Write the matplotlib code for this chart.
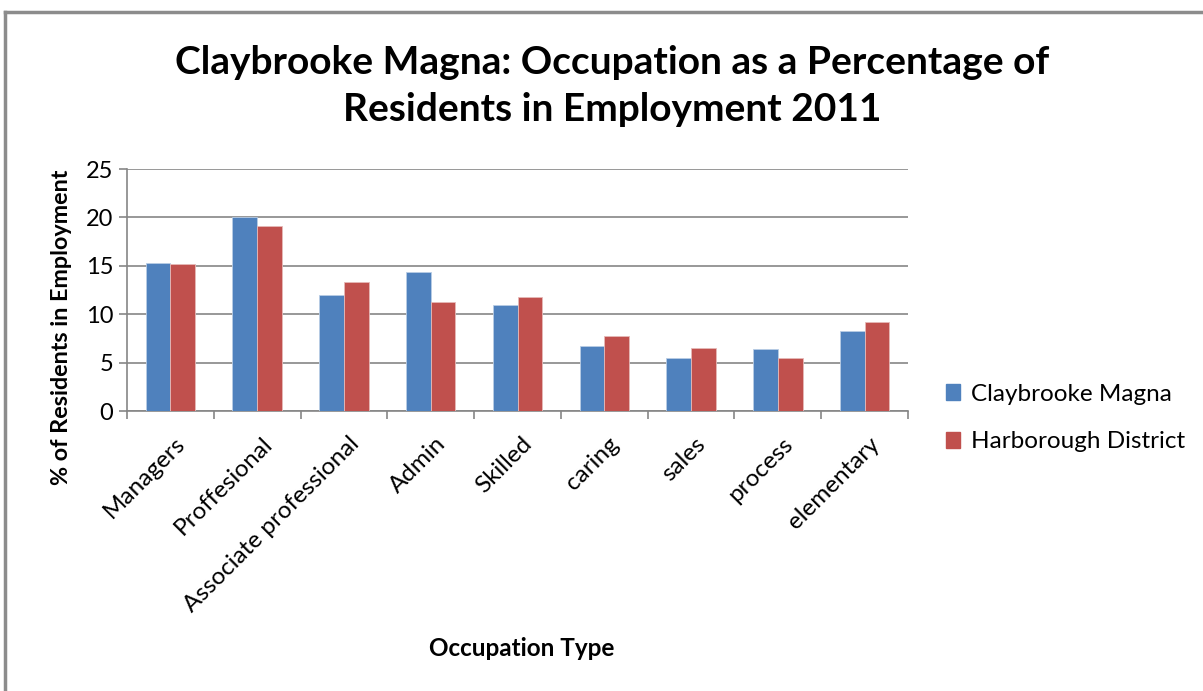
import matplotlib.pyplot as plt
import matplotlib.patches as mpatches
from matplotlib.lines import Line2D
from matplotlib.transforms import ScaledTranslation
import numpy as np

plt.rcParams['font.family'] = ['Lato', 'DejaVu Sans']

# Data
categories = ["Managers", "Proffesional", "Associate professional", "Admin", "Skilled",
              "caring", "sales", "process", "elementary"]
claybrooke = [15.3, 20.0, 12.0, 14.4, 11.0, 6.7, 5.5, 6.4, 8.3]
harborough = [15.2, 19.1, 13.3, 11.3, 11.8, 7.8, 6.5, 5.5, 9.2]
series_names = ["Claybrooke Magna", "Harborough District"]

BLUE = '#4F81BD'
RED = '#C0504D'
GRID = '#868686'

fig = plt.figure(figsize=(12.03, 6.91), dpi=100)
ax = fig.add_axes([0.1056, 0.4052, 0.6492, 0.3502])

x = np.arange(len(categories))
w = 0.285
ax.bar(x - w / 2, claybrooke, w, color=BLUE, edgecolor='#b9cde5', linewidth=0.6, zorder=3)
ax.bar(x + w / 2, harborough, w, color=RED, edgecolor='#e6b9b8', linewidth=0.6, zorder=3)

ax.set_xlim(-0.5, len(categories) - 0.5)
ax.set_ylim(0, 25)
ax.set_yticks(np.arange(0, 26, 5))
ax.yaxis.grid(True, color=GRID, linewidth=1.2, zorder=0)
ax.set_axisbelow(True)

# category boundary ticks
ax.set_xticks(np.arange(-0.5, len(categories), 1))
ax.set_xticklabels([])
ax.set_xticks(x, minor=True)
ax.set_xticklabels(categories, minor=True, rotation=45, ha='right', va='top',
                   rotation_mode='anchor', fontsize=17.5)
ax.tick_params(axis='x', which='minor', length=0, pad=16)
ax.tick_params(axis='x', which='major', length=6, color=GRID, width=1.2)
ax.tick_params(axis='y', length=6, color=GRID, width=1.2, labelsize=17, pad=4)
shift = ScaledTranslation(0.04, 0, fig.dpi_scale_trans)
for lbl in ax.get_xticklabels(minor=True):
    lbl.set_transform(lbl.get_transform() + shift)

for s in ['top', 'right']:
    ax.spines[s].set_visible(False)
for s in ['left', 'bottom']:
    ax.spines[s].set_color(GRID)
    ax.spines[s].set_linewidth(1.2)

fig.text(0.509, 0.875, "Claybrooke Magna: Occupation as a Percentage of\nResidents in Employment 2011",
         ha='center', va='center', fontsize=28, fontweight='bold', linespacing=1.42)
fig.text(0.051, 0.527, "% of Residents in Employment", rotation=90, ha='center', va='center',
         fontsize=16.8, fontweight='bold')
fig.text(0.434, 0.062, "Occupation Type", ha='center', va='center', fontsize=17.5, fontweight='bold')

handles = [mpatches.Patch(color=BLUE, label=series_names[0]),
           mpatches.Patch(color=RED, label=series_names[1])]
fig.legend(handles=handles, loc='center left', bbox_to_anchor=(0.768, 0.395), frameon=False,
           fontsize=17.5, handlelength=0.6, handleheight=0.6, labelspacing=1.1, handletextpad=0.45)

# outer chart border (left and top visible)
fig.add_artist(Line2D([0.0045, 0.0045], [0, 0.983], transform=fig.transFigure, color='#8c8c8c', linewidth=2.5))
fig.add_artist(Line2D([0.0045, 1.0], [0.983, 0.983], transform=fig.transFigure, color='#8c8c8c', linewidth=2.5))

fig.savefig("out.png", dpi=100)
